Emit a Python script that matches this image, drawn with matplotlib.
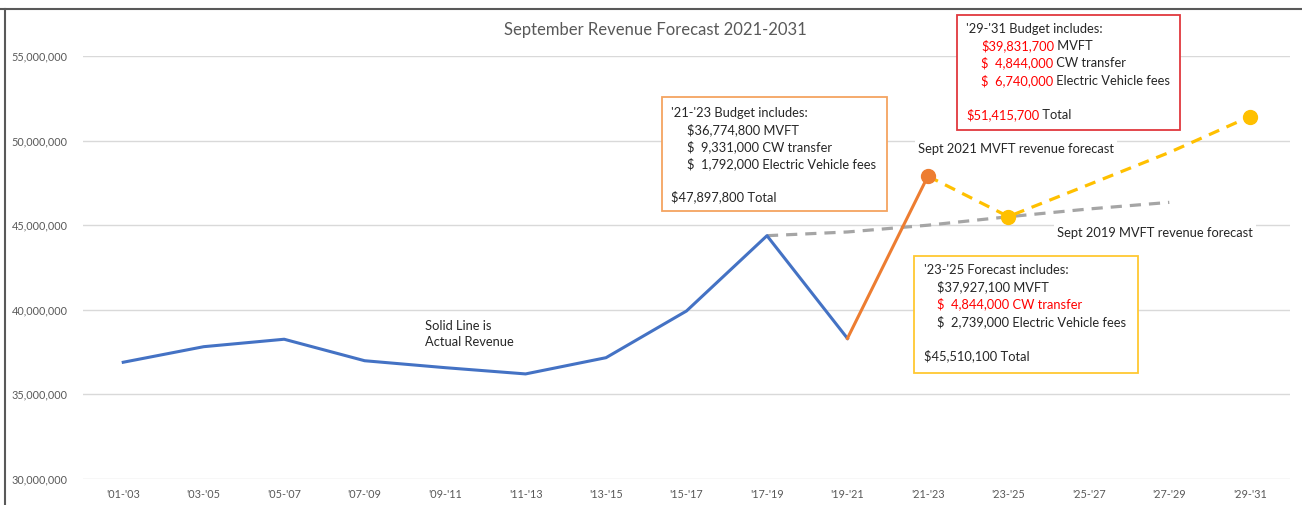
import numpy as np
import matplotlib.pyplot as plt
from matplotlib.patches import Rectangle
from matplotlib.lines import Line2D
from matplotlib.text import Annotation
from matplotlib.ticker import FuncFormatter

plt.rcParams["font.family"] = ["Lato", "DejaVu Sans"]

W, H = 1302, 505

# biennium labels
periods = ["'01-'03", "'03-'05", "'05-'07", "'07-'09", "'09-'11", "'11-'13",
           "'13-'15", "'15-'17", "'17-'19", "'19-'21", "'21-'23", "'23-'25",
           "'25-'27", "'27-'29", "'29-'31"]

nan = np.nan
# revenue in dollars
actual = [36900000, 37820000, 38260000, 36990000, 36580000, 36210000,
          37170000, 39930000, 44380000, 38310000, nan, nan, nan, nan, nan]
budget_21_23 = [nan] * 9 + [38310000, 47897800, nan, nan, nan, nan]
forecast_2021 = [nan] * 10 + [47897800, 45510100, 47400000, 49300000, 51415700]
forecast_2019 = [nan] * 8 + [44380000, 44600000, 45000000, 45500000,
                             45960000, 46350000, nan]

BLUE = "#4472C4"
ORANGE = "#ED7D31"
GOLD = "#FFC000"
GRAY = "#A5A5A5"
RED = "#FF0000"
TXT = "#262626"


def fx(x):
    return x / W


def fy(y):
    return 1 - y / H


fig = plt.figure(figsize=(W / 100, H / 100), dpi=100)
ax = fig.add_axes([fx(83), fy(479), fx(1290) - fx(83), fy(56) - fy(479)])

x = np.arange(len(periods))
ax.plot(x, forecast_2019, color=GRAY, lw=2.3, dashes=(3.5, 2.5), zorder=2)
ax.plot(x, forecast_2021, color=GOLD, lw=2.3, dashes=(3.5, 2.5), zorder=3)
ax.plot(x, actual, color=BLUE, lw=2.2, zorder=4)
ax.plot(x, budget_21_23, color=ORANGE, lw=2.2, zorder=4)
# markers
ax.plot(x[10], budget_21_23[10], "o", color=ORANGE, ms=10, zorder=5)
ax.plot([x[11], x[14]], [forecast_2021[11], forecast_2021[14]], "o",
        color=GOLD, ms=10, zorder=5)

ax.set_xlim(-0.5, len(periods) - 0.5)
ax.set_ylim(30000000, 55000000)
ax.set_yticks(np.arange(30000000, 55000001, 5000000))
ax.yaxis.set_major_formatter(FuncFormatter(lambda v, p: f"{int(v):,}"))
ax.set_xticks(x)
ax.set_xticklabels(periods)
ax.tick_params(axis="both", length=0, labelsize=7.8, labelcolor="#595959")
ax.tick_params(axis="y", pad=11)
ax.tick_params(axis="x", pad=7)
ax.grid(axis="y", color="#D9D9D9", lw=1)
ax.set_axisbelow(True)
for s in ax.spines.values():
    s.set_visible(False)

fig.text(0.503, fy(30), "September Revenue Forecast 2021-2031", ha="center",
         va="center", fontsize=12, color="#595959")

# chart area border (top + left)
fig.add_artist(Line2D([0, 1], [fy(8.5), fy(8.5)], color="#595959", lw=1.5))
fig.add_artist(Line2D([fx(4.5), fx(4.5)], [0, fy(8.5)], color="#595959", lw=1.5))

fs = 9.3


def put(xp, yp, parts):
    # parts: list of (text, color), drawn one after another on one line
    t = fig.text(fx(xp), fy(yp), parts[0][0], color=parts[0][1], fontsize=fs,
                 ha="left", va="center", zorder=6)
    for s, c in parts[1:]:
        a = Annotation(s, xy=(1, 0), xycoords=t, va="bottom", ha="left",
                       color=c, fontsize=fs, annotation_clip=False, zorder=6)
        fig.add_artist(a)
        t = a
    return t


def box(x0, y0, x1, y1, edge):
    fig.add_artist(Rectangle((fx(x0), fy(y1)), fx(x1) - fx(x0), fy(y0) - fy(y1),
                             transform=fig.transFigure, facecolor="white",
                             edgecolor=edge, lw=1.3, zorder=5))


# '21-'23 budget box
box(662, 97, 887, 211, "#F4A460")
put(671, 113, [("'21-'23 Budget includes:", TXT)])
put(687, 130, [("$36,774,800 MVFT", TXT)])
put(687, 147, [("$  9,331,000 CW transfer", TXT)])
put(687, 164, [("$  1,792,000 Electric Vehicle fees", TXT)])
put(671, 197, [("$47,897,800 Total", TXT)])

# '29-'31 budget box
box(957, 15, 1180, 130, "#E0383E")
put(966, 29, [("'29-'31 Budget includes:", TXT)])
put(981, 46, [("$39,831,700", RED), (" MVFT", TXT)])
put(981, 63, [("$  4,844,000", RED), (" CW transfer", TXT)])
put(981, 81, [("$  6,740,000", RED), (" Electric Vehicle fees", TXT)])
put(966, 115, [("$51,415,700", RED), (" Total", TXT)])

# '23-'25 forecast box
box(914, 256, 1138, 373, "#FFC832")
put(924, 270, [("'23-'25 Forecast includes:", TXT)])
put(937, 287, [("$37,927,100 MVFT", TXT)])
put(937, 304, [("$  4,844,000 CW transfer", RED)])
put(937, 322, [("$  2,739,000 Electric Vehicle fees", TXT)])
put(924, 356, [("$45,510,100 Total", TXT)])

for xp, yp, s in [(918, 149, "Sept 2021 MVFT revenue forecast"),
                  (1057, 233, "Sept 2019 MVFT revenue forecast")]:
    fig.text(fx(xp), fy(yp), s, fontsize=fs, color=TXT, ha="left", va="center",
             bbox=dict(facecolor="white", edgecolor="none", pad=2), zorder=4)

fig.text(fx(425), fy(326), "Solid Line is", fontsize=fs, color=TXT, va="center")
fig.text(fx(425), fy(342), "Actual Revenue", fontsize=fs, color=TXT, va="center")

fig.savefig("out.png", dpi=100, facecolor="white")
